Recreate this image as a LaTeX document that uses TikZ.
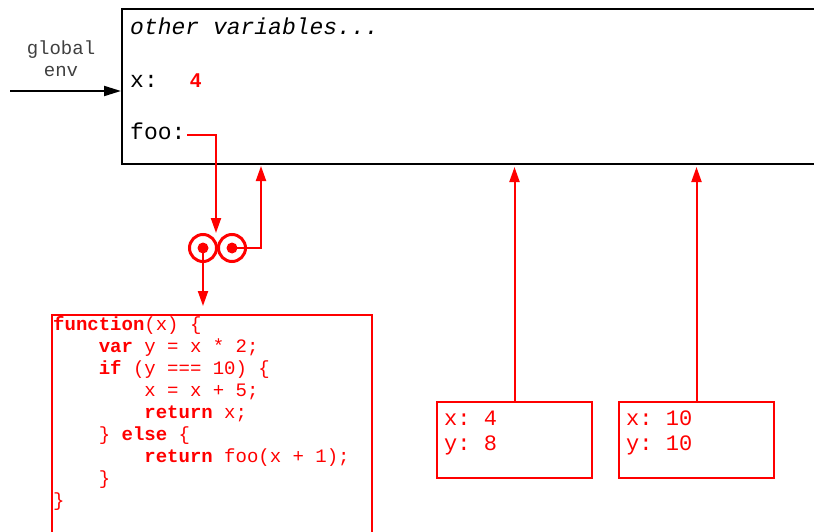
\documentclass[tikz,border=0pt]{standalone}
\usepackage{fontspec}
\setmonofont{Liberation Mono}
\setsansfont{Liberation Sans}
\usetikzlibrary{arrows.meta}

\begin{document}
\begin{tikzpicture}[x=1pt,y=-1pt,
  ptr/.style={red,line width=2pt,-{Triangle[length=15pt,width=10pt]}},
  redbox/.style={draw=red,line width=2pt,inner sep=0pt,anchor=north west},
  txt/.style={anchor=base west,inner sep=0pt,font=\ttfamily\fontsize{23}{25}\selectfont},
  codetxt/.style={anchor=north west,inner sep=0pt,align=left,red}]
  \useasboundingbox (0,0) rectangle (814,532);
  \clip (0,0) rectangle (814,532);

  \node[draw,line width=2pt,anchor=north west,minimum width=720pt,minimum height=155pt,inner sep=0pt] (global) at (121,8) {};
  \node[txt,font=\ttfamily\itshape\fontsize{23}{25}\selectfont] (other) at (130,35) {other variables...};
  \node[txt] (xname) at (130,88) {x:};
  \node[txt,red,font=\sffamily\bfseries\fontsize{20}{24}\selectfont] (xval) at (190,88) {4};
  \node[txt] (fooname) at (130,140) {foo:};

  \node[align=center,text=black!75,font=\ttfamily\fontsize{19}{22}\selectfont] (genv) at (61,59) {global\\env};
  \coordinate (gstart) at (10,91);
  \draw[line width=2pt,-{Triangle[length=17pt,width=10pt]}] (gstart) -- (global.west |- gstart);

  \node[draw=red,line width=3pt,circle,minimum size=27pt,inner sep=0pt] (lcirc) at (203,248) {};
  \node[draw=red,line width=3pt,circle,minimum size=27pt,inner sep=0pt] (rcirc) at (232,248) {};
  \node[fill=red,circle,minimum size=11pt,inner sep=0pt] (ldot) at (lcirc) {};
  \node[fill=red,circle,minimum size=11pt,inner sep=0pt] (rdot) at (rcirc) {};

  \node[redbox,line width=1.5pt,minimum width=320pt,minimum height=240pt] (code) at (51,314) {};
  \node[codetxt,font=\ttfamily\fontsize{19}{22}\selectfont] (codetext) at (53,316) {%
\textbf{function}(x) \{\\
~~~~\textbf{var} y = x * 2;\\
~~~~\textbf{if} (y === 10) \{\\
~~~~~~~~x = x + 5;\\
~~~~~~~~\textbf{return} x;\\
~~~~\} \textbf{else} \{\\
~~~~~~~~\textbf{return} foo(x + 1);\\
~~~~\}\\
\}};

  \node[redbox,minimum width=155pt,minimum height=76pt] (frameA) at (436,401) {};
  \node[codetxt,font=\ttfamily\fontsize{22}{25}\selectfont] (frameAtext) at (444,411) {x: 4\\y: 8};
  \node[redbox,minimum width=155pt,minimum height=76pt] (frameB) at (618,401) {};
  \node[codetxt,font=\ttfamily\fontsize{22}{25}\selectfont] (frameBtext) at (626,411) {x: 10\\y: 10};

  \coordinate (foop) at (187,135);
  \coordinate (foohead) at (216,233);
  \coordinate (envtip) at (261,164);
  \draw[ptr] (foop) -| (foohead);
  \draw[ptr,shorten >=2pt] (rdot.center) -| (envtip);
  \draw[ptr,shorten >=8pt] (ldot.center) -- (code.north -| ldot);
  \draw[ptr,shorten >=2pt] (frameA.north) -- (frameA.north |- global.south);
  \draw[ptr,shorten >=2pt] (frameB.north) -- (frameB.north |- global.south);
\end{tikzpicture}
\end{document}
